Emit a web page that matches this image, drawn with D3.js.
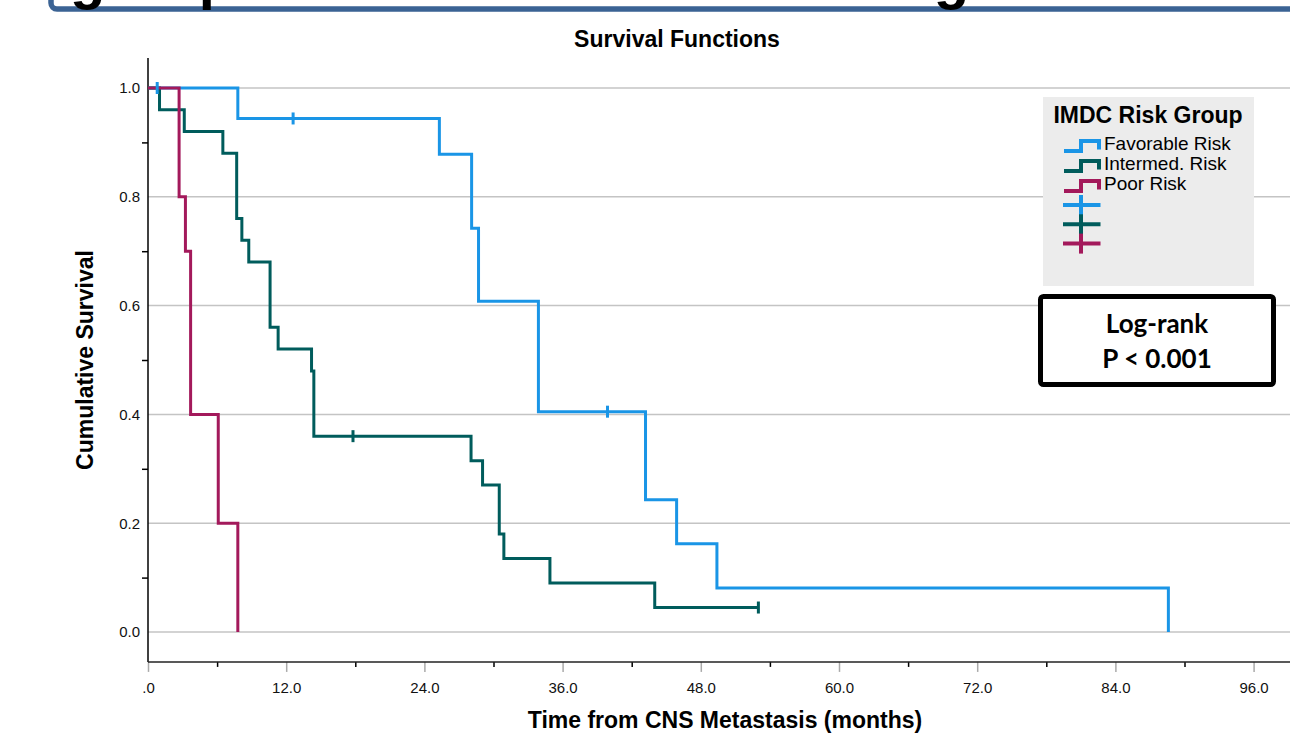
<!DOCTYPE html>
<html>
<head>
<meta charset="utf-8">
<script src="https://cdn.jsdelivr.net/npm/d3@7"></script>
<style>
  html, body { margin: 0; padding: 0; background: #fff; }
  svg { display: block; font-family: Arial, "Liberation Sans", sans-serif; }
  .grid line { stroke: #c4c4c4; stroke-width: 1.5; }
  .km { fill: none; stroke-width: 3; stroke-linejoin: miter; }
  .censor { stroke-width: 3; }
</style>
</head>
<body>
<svg id="chart" width="1290" height="733"></svg>
<script>
/* ─── Data ─────────────────────────────────────────────────────────────── */

const groups = ['Favorable Risk', 'Intermed. Risk', 'Poor Risk'];
const colors = ['#1a95e6', '#005c5c', '#a3195b'];

// step times (months) and survival after each step
const favTimes   = [0, 7.8, 25.3, 28.1, 28.7, 33.9, 43.2, 45.9, 49.4, 88.6];
const favSurv    = [1.0, 0.944, 0.878, 0.742, 0.608, 0.405, 0.243, 0.162, 0.081, 0.0];
const favCensor  = [0.8, 12.6, 39.9];

const intTimes   = [0, 1.0, 3.15, 6.5, 7.7, 8.15, 8.75, 10.6, 11.3, 14.2, 14.4, 28.05, 29.05, 30.5, 30.9, 34.9, 44.0];
const intSurv    = [1.0, 0.96, 0.92, 0.88, 0.76, 0.72, 0.68, 0.56, 0.52, 0.48, 0.36, 0.315, 0.27, 0.18, 0.135, 0.09, 0.045];
const intCensor  = [17.8, 53.0];

const poorTimes  = [0, 2.7, 3.25, 3.7, 6.1, 7.8];
const poorSurv   = [1.0, 0.8, 0.7, 0.4, 0.2, 0.0];
const poorCensor = [];

const xTicks      = [0, 12, 24, 36, 48, 60, 72, 84, 96];
const xTickLabels = ['.0', '12.0', '24.0', '36.0', '48.0', '60.0', '72.0', '84.0', '96.0'];
const xMinor      = [6, 18, 30, 42, 54, 66, 78, 90];
const yTicks      = [0, 0.2, 0.4, 0.6, 0.8, 1.0];
const yTickLabels = ['0.0', '0.2', '0.4', '0.6', '0.8', '1.0'];
const yMinor      = [0.1, 0.3, 0.5, 0.7, 0.9];

/* ─── Layout ───────────────────────────────────────────────────────────── */

const W = 1290, H = 733;
const svg = d3.select('#chart');

const x = d3.scaleLinear().domain([0, 96]).range([148, 1253.6]);
const y = d3.scaleLinear().domain([0, 1]).range([632, 88]);
const axisY = y(-0.055);   // x-axis line position
const plotRight = W;

/* ─── Top banner (cut off slide title) ─────────────────────────────────── */

svg.append('rect')
  .attr('x', 51).attr('y', -100)
  .attr('width', W + 50).attr('height', 109)
  .attr('rx', 6)
  .attr('fill', '#fff')
  .attr('stroke', '#3b6394')
  .attr('stroke-width', 5.5);

svg.append('text')
  .attr('x', 70).attr('y', -2)
  .attr('font-size', 58).attr('font-weight', 'bold')
  .attr('fill', '#000')
  .text('group from CNS metastasis diagnosis');

/* ─── Title ─────────────────────────────────────────────────────────────── */

svg.append('text')
  .attr('x', 677).attr('y', 47)
  .attr('text-anchor', 'middle')
  .attr('font-size', 23).attr('font-weight', 'bold')
  .text('Survival Functions');

/* ─── Grid ──────────────────────────────────────────────────────────────── */

svg.append('g').attr('class', 'grid')
  .selectAll('line')
  .data(yTicks)
  .join('line')
  .attr('x1', x(0)).attr('x2', plotRight)
  .attr('y1', d => y(d)).attr('y2', d => y(d));

/* ─── Axes ──────────────────────────────────────────────────────────────── */

// y axis: labels only at majors, small ticks at minors
const yAxis = svg.append('g').attr('transform', `translate(${x(0)},0)`);
yAxis.call(d3.axisLeft(y).tickValues(yTicks).tickSize(0).tickPadding(8)
  .tickFormat((d, i) => yTickLabels[i]));
yAxis.select('.domain').remove();
yAxis.selectAll('text').attr('font-size', 15).attr('fill', '#111')
  .attr('font-family', 'Arial, "Liberation Sans", sans-serif');

const yMinorAxis = svg.append('g').attr('transform', `translate(${x(0)},0)`);
yMinorAxis.call(d3.axisLeft(y).tickValues(yMinor).tickSize(6).tickFormat(''));
yMinorAxis.select('.domain').remove();
yMinorAxis.selectAll('line').attr('stroke', '#000').attr('stroke-width', 1.5);

svg.append('line')
  .attr('x1', x(0)).attr('x2', x(0))
  .attr('y1', y(1.055)).attr('y2', axisY)
  .attr('stroke', '#000').attr('stroke-width', 1.5);

// x axis
const xAxis = svg.append('g').attr('transform', `translate(0,${axisY})`);
xAxis.call(d3.axisBottom(x).tickValues(xTicks).tickSize(10).tickPadding(10)
  .tickFormat((d, i) => xTickLabels[i]));
xAxis.select('.domain').remove();
xAxis.selectAll('line').attr('stroke', '#aaa').attr('stroke-width', 1.5);
xAxis.selectAll('text').attr('font-size', 15).attr('fill', '#111')
  .attr('font-family', 'Arial, "Liberation Sans", sans-serif');

const xMinorAxis = svg.append('g').attr('transform', `translate(0,${axisY})`);
xMinorAxis.call(d3.axisBottom(x).tickValues(xMinor).tickSize(5).tickFormat(''));
xMinorAxis.select('.domain').remove();
xMinorAxis.selectAll('line').attr('stroke', '#000').attr('stroke-width', 1.5);

svg.append('line')
  .attr('x1', x(0)).attr('x2', plotRight)
  .attr('y1', axisY).attr('y2', axisY)
  .attr('stroke', '#222').attr('stroke-width', 1.5);

// axis titles
svg.append('text')
  .attr('x', 725).attr('y', 728)
  .attr('text-anchor', 'middle')
  .attr('font-size', 23).attr('font-weight', 'bold')
  .text('Time from CNS Metastasis (months)');

svg.append('text')
  .attr('transform', `translate(93,${(y(0) + y(1)) / 2}) rotate(-90)`)
  .attr('text-anchor', 'middle')
  .attr('font-size', 23).attr('font-weight', 'bold')
  .text('Cumulative Survival');

/* ─── Curves ────────────────────────────────────────────────────────────── */

function survAt(times, surv, t) {
  let s = surv[0];
  times.forEach((tt, i) => { if (tt <= t) s = surv[i]; });
  return s;
}

const series = [
  { times: favTimes,  surv: favSurv,  censor: favCensor },
  { times: intTimes,  surv: intSurv,  censor: intCensor },
  { times: poorTimes, surv: poorSurv, censor: poorCensor },
].map((s, i) => {
  const pts = s.times.map((t, j) => [t, s.surv[j]]);
  const lastC = d3.max(s.censor);
  if (lastC != null && lastC > d3.max(s.times)) pts.push([lastC, survAt(s.times, s.surv, lastC)]);
  return { ...s, pts, color: colors[i], name: groups[i] };
});

const line = d3.line()
  .x(d => x(d[0])).y(d => y(d[1]))
  .curve(d3.curveStepAfter);

const curves = svg.append('g');
curves.selectAll('path')
  .data(series)
  .join('path')
  .attr('class', 'km')
  .attr('stroke', d => d.color)
  .attr('d', d => line(d.pts));

const cens = svg.append('g');
series.forEach(s => {
  cens.selectAll(null)
    .data(s.censor)
    .join('line')
    .attr('class', 'censor')
    .attr('stroke', s.color)
    .attr('x1', t => x(t)).attr('x2', t => x(t))
    .attr('y1', t => y(survAt(s.times, s.surv, t)) - 6)
    .attr('y2', t => y(survAt(s.times, s.surv, t)) + 6);
});

/* ─── Legend ────────────────────────────────────────────────────────────── */

const lg = svg.append('g');
lg.append('rect')
  .attr('x', 1043).attr('y', 97)
  .attr('width', 211).attr('height', 189)
  .attr('fill', '#ececec');

lg.append('text')
  .attr('x', 1148).attr('y', 123)
  .attr('text-anchor', 'middle')
  .attr('font-size', 23).attr('font-weight', 'bold')
  .text('IMDC Risk Group');

const rowY = d3.scaleLinear().domain([0, 1]).range([149.5, 169.5]);

groups.forEach((g, i) => {
  const by = rowY(i);
  lg.append('path')
    .attr('d', d3.line()([[1064, by + 1.5], [1081, by + 1.5], [1081, by - 8.5], [1099, by - 8.5], [1099, by]]))
    .attr('fill', 'none')
    .attr('stroke', colors[i])
    .attr('stroke-width', 4);
  lg.append('text')
    .attr('x', 1104).attr('y', by)
    .attr('font-size', 19)
    .text(g);
});

const censY = d3.scaleLinear().domain([0, 1]).range([205, 224.3]);
colors.forEach((c, i) => {
  const cy = censY(i);
  lg.append('line')
    .attr('x1', 1063).attr('x2', 1100.5)
    .attr('y1', cy).attr('y2', cy)
    .attr('stroke', c).attr('stroke-width', 4);
  lg.append('line')
    .attr('x1', 1081).attr('x2', 1081)
    .attr('y1', cy - 10).attr('y2', cy + 10)
    .attr('stroke', c).attr('stroke-width', 4);
});

/* ─── Log-rank box ──────────────────────────────────────────────────────── */

const lr = svg.append('g');
lr.append('rect')
  .attr('x', 1040.5).attr('y', 296.5)
  .attr('width', 233).attr('height', 88)
  .attr('rx', 3)
  .attr('fill', '#fff')
  .attr('stroke', '#000')
  .attr('stroke-width', 5);

lr.selectAll('text')
  .data(['Log-rank', 'P < 0.001'])
  .join('text')
  .attr('x', 1157)
  .attr('y', (d, i) => 333 + i * 35)
  .attr('text-anchor', 'middle')
  .attr('font-family', 'Lato, "Open Sans", sans-serif')
  .attr('font-size', 26).attr('font-weight', 'bold')
  .text(d => d);
</script>
</body>
</html>
